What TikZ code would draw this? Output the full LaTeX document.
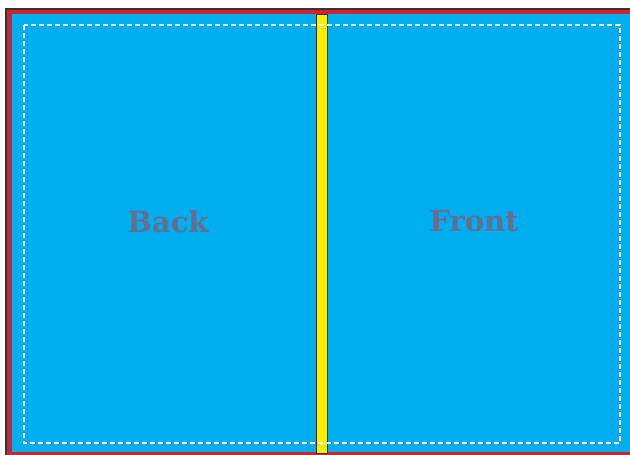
\documentclass[tikz,border=0pt]{standalone}
\usepackage{fontspec}
\setmainfont{DejaVu Serif}
\definecolor{bleedred}{RGB}{208,35,45}
\definecolor{coverblue}{RGB}{0,174,239}
\definecolor{spineyellow}{RGB}{255,237,0}
\definecolor{edgegray}{RGB}{55,50,55}
\definecolor{labelgray}{RGB}{104,108,145}
\begin{document}
\begin{tikzpicture}[
    x=1pt, y=-1pt,
    bleed/.style={
        fill=bleedred
    },
    trim/.style={
        draw=edgegray,
        line width=1.2pt
    },
    cover/.style={
        fill=coverblue
    },
    spine/.style={
        fill=spineyellow,
        draw=edgegray,
        line width=0.9pt
    },
    safe/.style={
        draw=white,
        dash pattern=on 5pt off 3pt,
        line width=1.3pt
    },
    panel/.style={
        font=\fontsize{29}{34}\selectfont\bfseries,
        text=labelgray,
        inner sep=0pt
    }
]
    \useasboundingbox (0,0) rectangle (630,455);
    \fill[white] (0,0) rectangle (640,465);
    % bleed strips
    \fill[bleed] (6,9) rectangle (640,14);
    \fill[bleed] (6,9) rectangle (12,465);
    \fill[bleed] (6,452) rectangle (640,465);
    \draw[trim] (640,9) -- (6,9) -- (6,465);
    \fill[cover] (12,14) rectangle (640,452);
    \draw[spine] (316,14) rectangle (327,453);
    \draw[safe] (24,25) rectangle (620,443);
    \foreach \name/\x/\y/\txt in {
        back/168/221.5/Back,
        front/474/221.5/Front%
    } {
        \node[panel] (\name) at (\x, \y) {\txt};
    }

\end{tikzpicture}
\end{document}
